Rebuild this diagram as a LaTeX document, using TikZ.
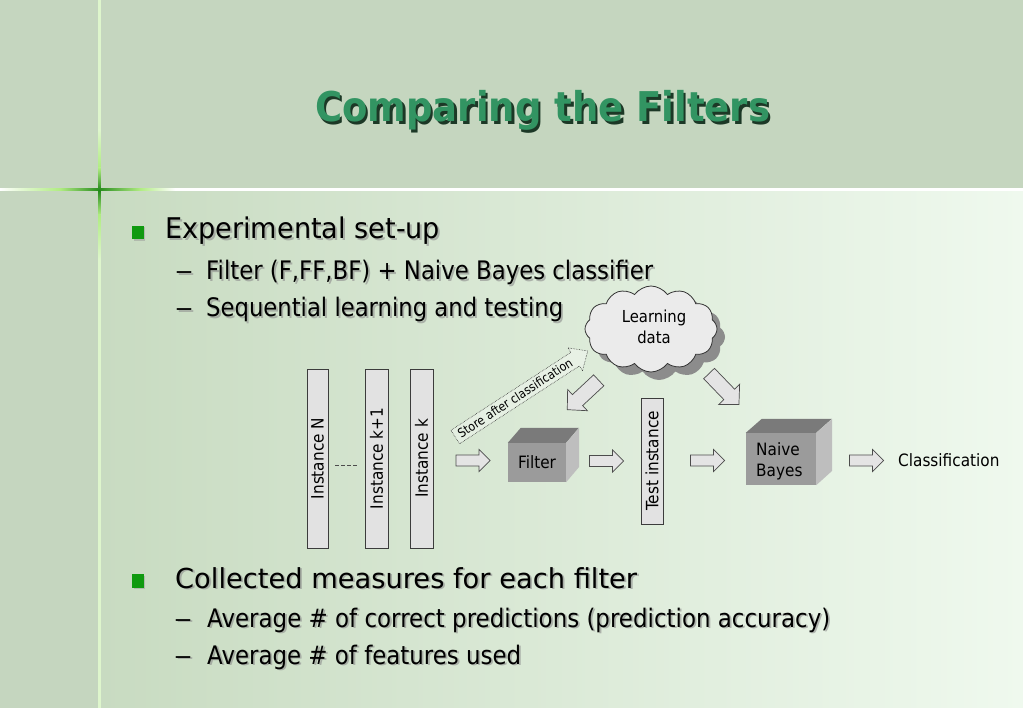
\documentclass[tikz,border=0pt]{standalone}
\usepackage{fontspec}
\setmainfont{DejaVu Sans}
\newfontfamily\diagfont{DejaVu Sans}[FakeStretch=0.9]
\usetikzlibrary{shapes.symbols,shadows}
\definecolor{band}{RGB}{197,214,191}
\definecolor{bodyL}{RGB}{200,219,193}
\definecolor{bodyR}{RGB}{239,249,238}
\definecolor{titlegreen}{RGB}{50,148,98}
\definecolor{titleshadow}{RGB}{28,56,38}
\definecolor{bulletgreen}{RGB}{16,154,16}
\definecolor{vline}{RGB}{222,246,204}
\definecolor{glow}{RGB}{176,236,130}
\definecolor{glowdark}{RGB}{40,140,30}
\definecolor{boxedge}{RGB}{60,60,60}
\definecolor{boxfill}{RGB}{226,226,226}
\definecolor{cubefrontc}{RGB}{155,155,155}
\definecolor{cubetopc}{RGB}{122,122,122}
\definecolor{cubesidec}{RGB}{190,190,190}
\definecolor{arrfill}{RGB}{228,228,228}
\newcommand{\fittext}[3]{\resizebox{#1pt}{\height}{\fontsize{#2}{#2}\selectfont #3}}
\newcommand{\tline}[6]{%
  \node[tsh] (#1s) at (#2+1.8,#3+1.8) {\fittext{#4}{#5}{#6}};
  \node[txt] (#1) at (#2,#3) {\fittext{#4}{#5}{#6}};}
% block arrow: style, x, y, angle, length, shaft, head, headlength
\newcommand{\blockarrow}[8]{%
  \draw[#1, shift={(#2,#3)}, rotate=#4]
    (-#5/2,-#6/2) -- (#5/2-#8,-#6/2) -- (#5/2-#8,-#7/2) -- (#5/2,0)
    -- (#5/2-#8,#7/2) -- (#5/2-#8,#6/2) -- (-#5/2,#6/2) -- cycle;}
\begin{document}
\begin{tikzpicture}[x=1pt,y=-1pt,
  txt/.style={anchor=base west, inner sep=0pt, text=black},
  tsh/.style={anchor=base west, inner sep=0pt, text=black!45, opacity=0.6},
  bulletsq/.style={fill=bulletgreen},
  instbox/.style={draw=boxedge, fill=boxfill, line width=0.8pt, rotate=90, inner sep=0pt, font=\diagfont\fontsize{17}{17}\selectfont},
  cubefront/.style={fill=cubefrontc, inner sep=0pt, font=\diagfont\fontsize{17}{21}\selectfont},
  cubetop/.style={fill=cubetopc},
  cubeside/.style={fill=cubesidec},
  blk/.style={draw=black!70, fill=arrfill, line width=0.7pt, line join=miter},
  storearr/.style={draw=black!80, densely dotted, fill=white, fill opacity=0.35, line width=0.6pt},
  lbl/.style={inner sep=0pt, font=\diagfont\fontsize{17}{21}\selectfont}
]
\useasboundingbox (0,0) rectangle (1023,708);
% background
\fill[band] (0,0) rectangle (1023,708);
\shade[left color=bodyL, right color=bodyR] (99,190) rectangle (1023,708);
\fill[white] (0,188.5) rectangle (1023,191);
\fill[vline] (98,0) rectangle (100.5,708);
\shade[left color=white, right color=glow] (0,188.5) rectangle (60,191);
\shade[left color=glow, right color=glowdark] (60,188.5) rectangle (99,191);
\shade[left color=glowdark, right color=glow] (99,188.5) rectangle (140,191);
\shade[left color=glow, right color=white] (140,188.5) rectangle (175,191);
\shade[top color=vline, bottom color=glow] (98,130) rectangle (100.5,168);
\shade[top color=glow, bottom color=glowdark] (98,168) rectangle (100.5,189);
\shade[top color=glowdark, bottom color=glow] (98,191) rectangle (100.5,215);
\shade[top color=glow, bottom color=vline] (98,215) rectangle (100.5,260);

% title
\node[anchor=base west, inner sep=0pt, text=titleshadow] (titles) at (317.5,124.5)
  {\resizebox{455pt}{\height}{\fontsize{41}{41}\selectfont\bfseries Comparing the Filters}};
\node[anchor=base west, inner sep=0pt, text=titlegreen] (title) at (315,122)
  {\resizebox{455pt}{\height}{\fontsize{41}{41}\selectfont\bfseries Comparing the Filters}};

% bullets
\fill[black!40, opacity=0.5] (133.5,227.5) rectangle (145,241);
\fill[bulletsq] (132,226) rectangle (143.5,239.5);
\fill[black!40, opacity=0.5] (133.5,575.5) rectangle (145,589);
\fill[bulletsq] (132,574) rectangle (143.5,587.5);

\tline{l1}{165}{239}{275}{28.5}{Experimental set-up}
\tline{d2}{175}{280}{18}{25.5}{–}
\tline{l2}{206}{280}{447}{25.5}{Filter (F,FF,BF) + Naive Bayes classifier}
\tline{d3}{175}{317}{18}{25.5}{–}
\tline{l3}{206}{317}{357}{25.5}{Sequential learning and testing}
\tline{l4}{175}{588}{462}{27.5}{Collected measures for each filter}
\tline{d5}{174}{627}{18}{25.5}{–}
\tline{l5}{207}{627}{623}{25.5}{Average \# of correct predictions (prediction accuracy)}
\tline{d6}{174}{664}{18}{25.5}{–}
\tline{l6}{207}{664}{314}{25.5}{Average \# of features used}

% instance boxes
\node[instbox, minimum width=179pt, minimum height=21pt] (instN) at (317.5,458.5) {Instance N};
\node[instbox, minimum width=179pt, minimum height=23pt] (instk1) at (376.5,458.5) {Instance k+1};
\node[instbox, minimum width=179pt, minimum height=23pt] (instk) at (421.5,458.5) {Instance k};
\coordinate (dl) at (335,465);
\coordinate (dr) at (358,465);
\draw[black!70, dash pattern=on 4pt off 2pt] (dl) -- (dr);

% horizontal block arrows
\blockarrow{blk}{473}{460.5}{0}{34}{11}{22}{11}

% filter cube
\node[cubefront, minimum width=58pt, minimum height=39pt] (filter) at (537,462.5) {Filter};
\fill[cubetop] (filter.north west) -- ++(13,-15) -- ++(58,0) -- (filter.north east) -- cycle;
\fill[cubeside] (filter.north east) -- ++(13,-15) -- ++(0,39) -- (filter.south east) -- cycle;

\blockarrow{blk}{606.5}{461}{0}{34}{11}{22}{11}

% test instance
\node[instbox, minimum width=126pt, minimum height=22pt] (test) at (652,461) {Test instance};

\blockarrow{blk}{707.5}{460.5}{0}{34}{11}{22}{11}

% naive bayes cube
\node[cubefront, minimum width=70pt, minimum height=52pt] (nb) at (781,459) {};
\fill[cubetop] (nb.north west) -- ++(16,-14) -- ++(70,0) -- (nb.north east) -- cycle;
\fill[cubeside] (nb.north east) -- ++(16,-14) -- ++(0,52) -- (nb.south east) -- cycle;
\node[lbl, anchor=west, align=left] (nbl) at (756,461) {Naive\\Bayes};

\blockarrow{blk}{866.5}{460.5}{0}{34}{11}{22}{11}
\node[lbl, anchor=west] (cls) at (898,460) {Classification};

% cloud
\node[cloud, cloud puffs=12, cloud puff arc=110, aspect=1.6, draw=black!80, fill=black!8, line width=0.8pt,
  minimum width=132pt, minimum height=86pt, inner sep=0pt,
  drop shadow={shadow xshift=8pt, shadow yshift=-8pt, fill=black!45, opacity=1}] (cloud) at (651,329) {};
\node[lbl, align=center, font=\diagfont\fontsize{16.5}{21}\selectfont] (cloudl) at (654,327) {Learning\\data};

% arrows from the cloud
\blockarrow{blk}{583}{395}{223}{43}{15}{29}{14}
\blockarrow{blk}{724}{389}{-46}{43}{15}{29}{14}

% store arrow
\blockarrow{storearr}{521.5}{394}{33}{158}{16}{27}{15}
\node[inner sep=0pt, rotate=33, font=\diagfont] (store) at (515,398) {\fittext{134}{12.5}{Store after classification}};
\end{tikzpicture}
\end{document}
